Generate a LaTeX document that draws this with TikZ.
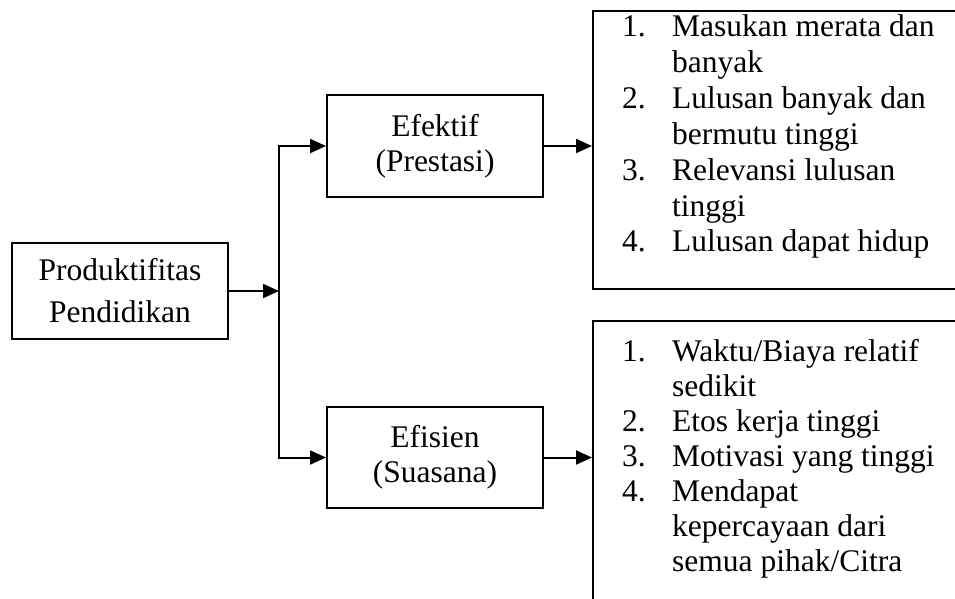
\documentclass[tikz,border=0pt]{standalone}
\usepackage{fontspec}
\setmainfont{Liberation Serif}
\usetikzlibrary{arrows.meta}
\begin{document}
\begin{tikzpicture}[x=1pt,y=-1pt,
  ln/.style={line width=2pt},
  box/.style={draw, ln, inner sep=0pt, align=center, font=\fontsize{31.5}{35}\selectfont},
  arr/.style={ln, -{Triangle[length=16pt,width=14pt]}},
  itm/.style={anchor=base west, inner sep=0pt, font=\fontsize{31.5}{35}\selectfont}]
\path[use as bounding box] (0,0) rectangle (955,599);
\clip (0,0) rectangle (955,599);
% left box
\node[box, minimum width=216pt, minimum height=96pt, font=\fontsize{31.5}{42}\selectfont] (prod) at (120,291) {Produktifitas\\Pendidikan};
% middle boxes
\node[box, minimum width=216pt, minimum height=102pt] (efk) at (435,146) {Efektif\\(Prestasi)};
\node[box, minimum width=216pt, minimum height=101pt] (efs) at (435,457.5) {Efisien\\(Suasana)};
% right boxes (open at the picture's edge)
\node[draw, ln, minimum width=400pt, minimum height=278pt, anchor=north west, inner sep=0pt] (lista) at (592,10) {};
\node[draw, ln, minimum width=400pt, minimum height=330pt, anchor=north west, inner sep=0pt] (listb) at (592,320) {};
% trunk
\coordinate (tt) at (279,146);
\coordinate (tb) at (279,457.5);
\draw[arr] (prod.east) -- (prod.east -| tt);
\draw[arr] (tb) -- (tt) -- (efk.west);
\draw[arr] (tt) -- (tb) -- (efs.west);
\draw[arr] (efk.east) -- (efk.east -| lista.west);
\draw[arr] (efs.east) -- (efs.east -| listb.west);
% list A
\node[itm] (a1n) at (622,37) {1.};
\node[itm] (a1) at (672,37) {Masukan merata dan};
\node[itm] (a1b) at (672,72.8) {banyak};
\node[itm] (a2n) at (622,108.6) {2.};
\node[itm] (a2) at (672,108.6) {Lulusan banyak dan};
\node[itm] (a2b) at (672,144.4) {bermutu tinggi};
\node[itm] (a3n) at (622,180.2) {3.};
\node[itm] (a3) at (672,180.2) {Relevansi lulusan};
\node[itm] (a3b) at (672,216) {tinggi};
\node[itm] (a4n) at (622,251.8) {4.};
\node[itm] (a4) at (672,251.8) {Lulusan dapat hidup};
% list B
\node[itm] (b1n) at (622,361) {1.};
\node[itm] (b1) at (672,361) {Waktu/Biaya relatif};
\node[itm] (b1b) at (672,396) {sedikit};
\node[itm] (b2n) at (622,431) {2.};
\node[itm] (b2) at (672,431) {Etos kerja tinggi};
\node[itm] (b3n) at (622,466) {3.};
\node[itm] (b3) at (672,466) {Motivasi yang tinggi};
\node[itm] (b4n) at (622,501) {4.};
\node[itm] (b4) at (672,501) {Mendapat};
\node[itm] (b4b) at (672,536) {kepercayaan dari};
\node[itm] (b4c) at (672,571) {semua pihak/Citra};
\end{tikzpicture}
\end{document}
